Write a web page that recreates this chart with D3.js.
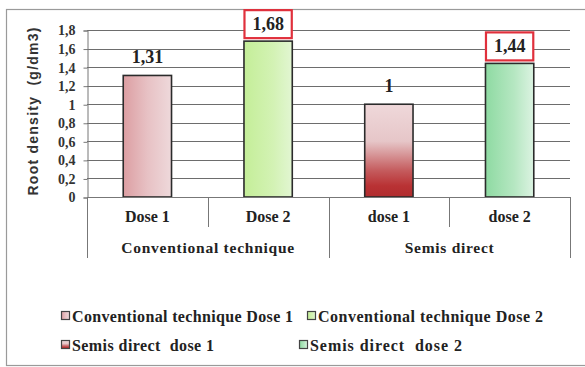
<!DOCTYPE html>
<html>
<head>
<meta charset="utf-8">
<script src="https://cdn.jsdelivr.net/npm/d3@7"></script>
<style>
  html, body { margin: 0; padding: 0; background: #fff; }
  svg { display: block; }
</style>
</head>
<body>
<svg id="chart" width="585" height="367"></svg>
<script>
// Root density by tillage technique and dose
const groups = ["Conventional technique", "Semis direct"];
const doses = ["Dose 1", "Dose 2", "dose 1", "dose 2"];
const values = [1.31, 1.68, 1.0, 1.44];
const valueLabels = ["1,31", "1,68", "1", "1,44"];
const boxedLabels = [false, true, false, true];
const legendNames = [
  "Conventional technique Dose 1",
  "Conventional technique Dose 2",
  "Semis direct  dose 1",
  "Semis direct  dose 2"
];
const yTicks = [0, 0.2, 0.4, 0.6, 0.8, 1, 1.2, 1.4, 1.6, 1.8];
const yTickLabels = ["0", "0,2", "0,4", "0,6", "0,8", "1", "1,2", "1,4", "1,6", "1,8"];

const svg = d3.select("#chart");
const W = 585;
const plot = { left: 87, right: 570, top: 30, bottom: 197 };

// bold serif text helper; optional target width spreads the letters
function serifText(sel, size, width) {
  sel.attr("font-family", "Liberation Serif").attr("font-weight", "bold")
    .attr("xml:space", "preserve").attr("font-size", size).attr("fill", "#222");
  if (width) sel.attr("textLength", width).attr("lengthAdjust", "spacing");
  return sel;
}

// fills: gradients per series
const defs = svg.append("defs");
function grad(id, x2, y2, stops) {
  const g = defs.append("linearGradient").attr("id", id)
    .attr("x1", 0).attr("y1", 0).attr("x2", x2).attr("y2", y2);
  stops.forEach(s => g.append("stop").attr("offset", s[0]).attr("stop-color", s[1]));
}
grad("g0", 1, 0, [[0, "#dc9ea2"], [0.5, "#e7c1c4"], [1, "#eed9db"]]);
grad("g1", 1, 0, [[0, "#c4ee98"], [0.6, "#d3f2b4"], [1, "#e2f6d2"]]);
grad("g2", 0, 1, [[0, "#efd8da"], [0.4, "#e6c6c8"], [0.72, "#c45a5c"], [0.88, "#b93234"], [1, "#b02c2e"]]);
grad("g3", 1, 0, [[0, "#8edaa2"], [0.6, "#b6e7c2"], [1, "#dcf3e2"]]);
const fills = ["url(#g0)", "url(#g1)", "url(#g2)", "url(#g3)"];

// outer frame
svg.append("rect").attr("x", 6.5).attr("y", 9.5).attr("width", W + 10).attr("height", 356)
  .attr("fill", "none").attr("stroke", "#9a9a9a").attr("stroke-width", 1.2);

const x = d3.scaleBand().domain(d3.range(doses.length)).range([plot.left, plot.right]);
const y = d3.scaleLinear().domain([0, 1.8]).range([plot.bottom, plot.top]);

// gridlines
svg.append("g").selectAll("line").data(yTicks.slice(1)).join("line")
  .attr("x1", plot.left).attr("x2", plot.right)
  .attr("y1", d => Math.round(y(d)) + 0.5).attr("y2", d => Math.round(y(d)) + 0.5)
  .attr("stroke", "#6d6d6d").attr("stroke-width", 1);

// y axis
const yAxis = d3.axisLeft(y).tickValues(yTicks).tickSize(4).tickPadding(8)
  .tickFormat((d, i) => yTickLabels[i]);
const yg = svg.append("g").attr("transform", `translate(${plot.left + 0.5},0.5)`).call(yAxis);
yg.attr("font-family", null).attr("font-size", null);
yg.select(".domain").attr("stroke", "#777");
yg.selectAll(".tick line").attr("stroke", "#777");
serifText(yg.selectAll(".tick text"), 14).attr("fill", "#333");

// y title
svg.append("text")
  .attr("transform", `translate(38,${(plot.top + plot.bottom) / 2 - 2}) rotate(-90)`)
  .attr("text-anchor", "middle")
  .attr("font-family", "Liberation Sans").attr("font-weight", "bold")
  .attr("xml:space", "preserve")
  .attr("font-size", 14).attr("fill", "#333")
  .attr("textLength", 168).attr("lengthAdjust", "spacing")
  .text("Root density  (g/dm3)");

// bars
const barW = x.bandwidth() * 0.4;
svg.append("g").selectAll("rect").data(values).join("rect")
  .attr("x", (d, i) => x(i) + (x.bandwidth() - barW) / 2)
  .attr("y", d => y(d))
  .attr("width", barW)
  .attr("height", d => y(0) - y(d))
  .attr("fill", (d, i) => fills[i])
  .attr("stroke", "#2b2b2b").attr("stroke-width", 1.6);

// value labels (two of them boxed in red)
values.forEach((v, i) => {
  const cx = x(i) + x.bandwidth() / 2;
  const top = y(v);
  if (boxedLabels[i]) {
    svg.append("rect")
      .attr("x", cx - barW / 2 + 0.5).attr("y", top - 31)
      .attr("width", barW - 1).attr("height", 28)
      .attr("fill", "#fff").attr("stroke", "#e0303c").attr("stroke-width", 2.2);
    serifText(svg.append("text"), 18)
      .attr("x", cx).attr("y", top - 11)
      .attr("text-anchor", "middle")
      .text(valueLabels[i]);
  } else {
    serifText(svg.append("text"), 18)
      .attr("x", cx).attr("y", top - 12)
      .attr("text-anchor", "middle")
      .text(valueLabels[i]);
  }
});

// category axis: baseline, separators and two levels of labels
const ax = svg.append("g").attr("stroke", "#777");
ax.append("line").attr("x1", plot.left).attr("x2", plot.right)
  .attr("y1", plot.bottom + 0.5).attr("y2", plot.bottom + 0.5);
const bounds = d3.range(doses.length + 1).map(i => i < doses.length ? x(i) : plot.right);
bounds.forEach((bx, i) => {
  const outer = i % 2 === 0;
  ax.append("line").attr("x1", Math.round(bx) + 0.5).attr("x2", Math.round(bx) + 0.5)
    .attr("y1", plot.bottom).attr("y2", outer ? 258 : 227);
});
serifText(svg.append("g").selectAll("text").data(doses).join("text"), 16)
  .attr("x", (d, i) => x(i) + x.bandwidth() / 2)
  .attr("y", 222)
  .attr("text-anchor", "middle")
  .text(d => d);
const groupWidths = [173, 89];
serifText(svg.append("g").selectAll("text").data(groups).join("text"), 15.5)
  .attr("x", (d, i) => x(i * 2) + x.bandwidth())
  .attr("y", 253)
  .attr("text-anchor", "middle")
  .attr("textLength", (d, i) => groupWidths[i]).attr("lengthAdjust", "spacing")
  .text(d => d);

// legend
const legendPos = [[61, 316], [307, 316], [61, 345], [299, 345]];
const legendWidths = [221, 225, 142, 152];
legendNames.forEach((name, i) => {
  const [lx, ly] = legendPos[i];
  const g = svg.append("g").attr("transform", `translate(${lx},${ly})`);
  g.append("rect").attr("x", 0.5).attr("y", -4.5).attr("width", 8).attr("height", 8)
    .attr("fill", fills[i]).attr("stroke", "#444").attr("stroke-width", 1.2);
  serifText(g.append("text"), 16, legendWidths[i])
    .attr("x", 11).attr("y", 6)
    .text(name);
});
</script>
</body>
</html>
